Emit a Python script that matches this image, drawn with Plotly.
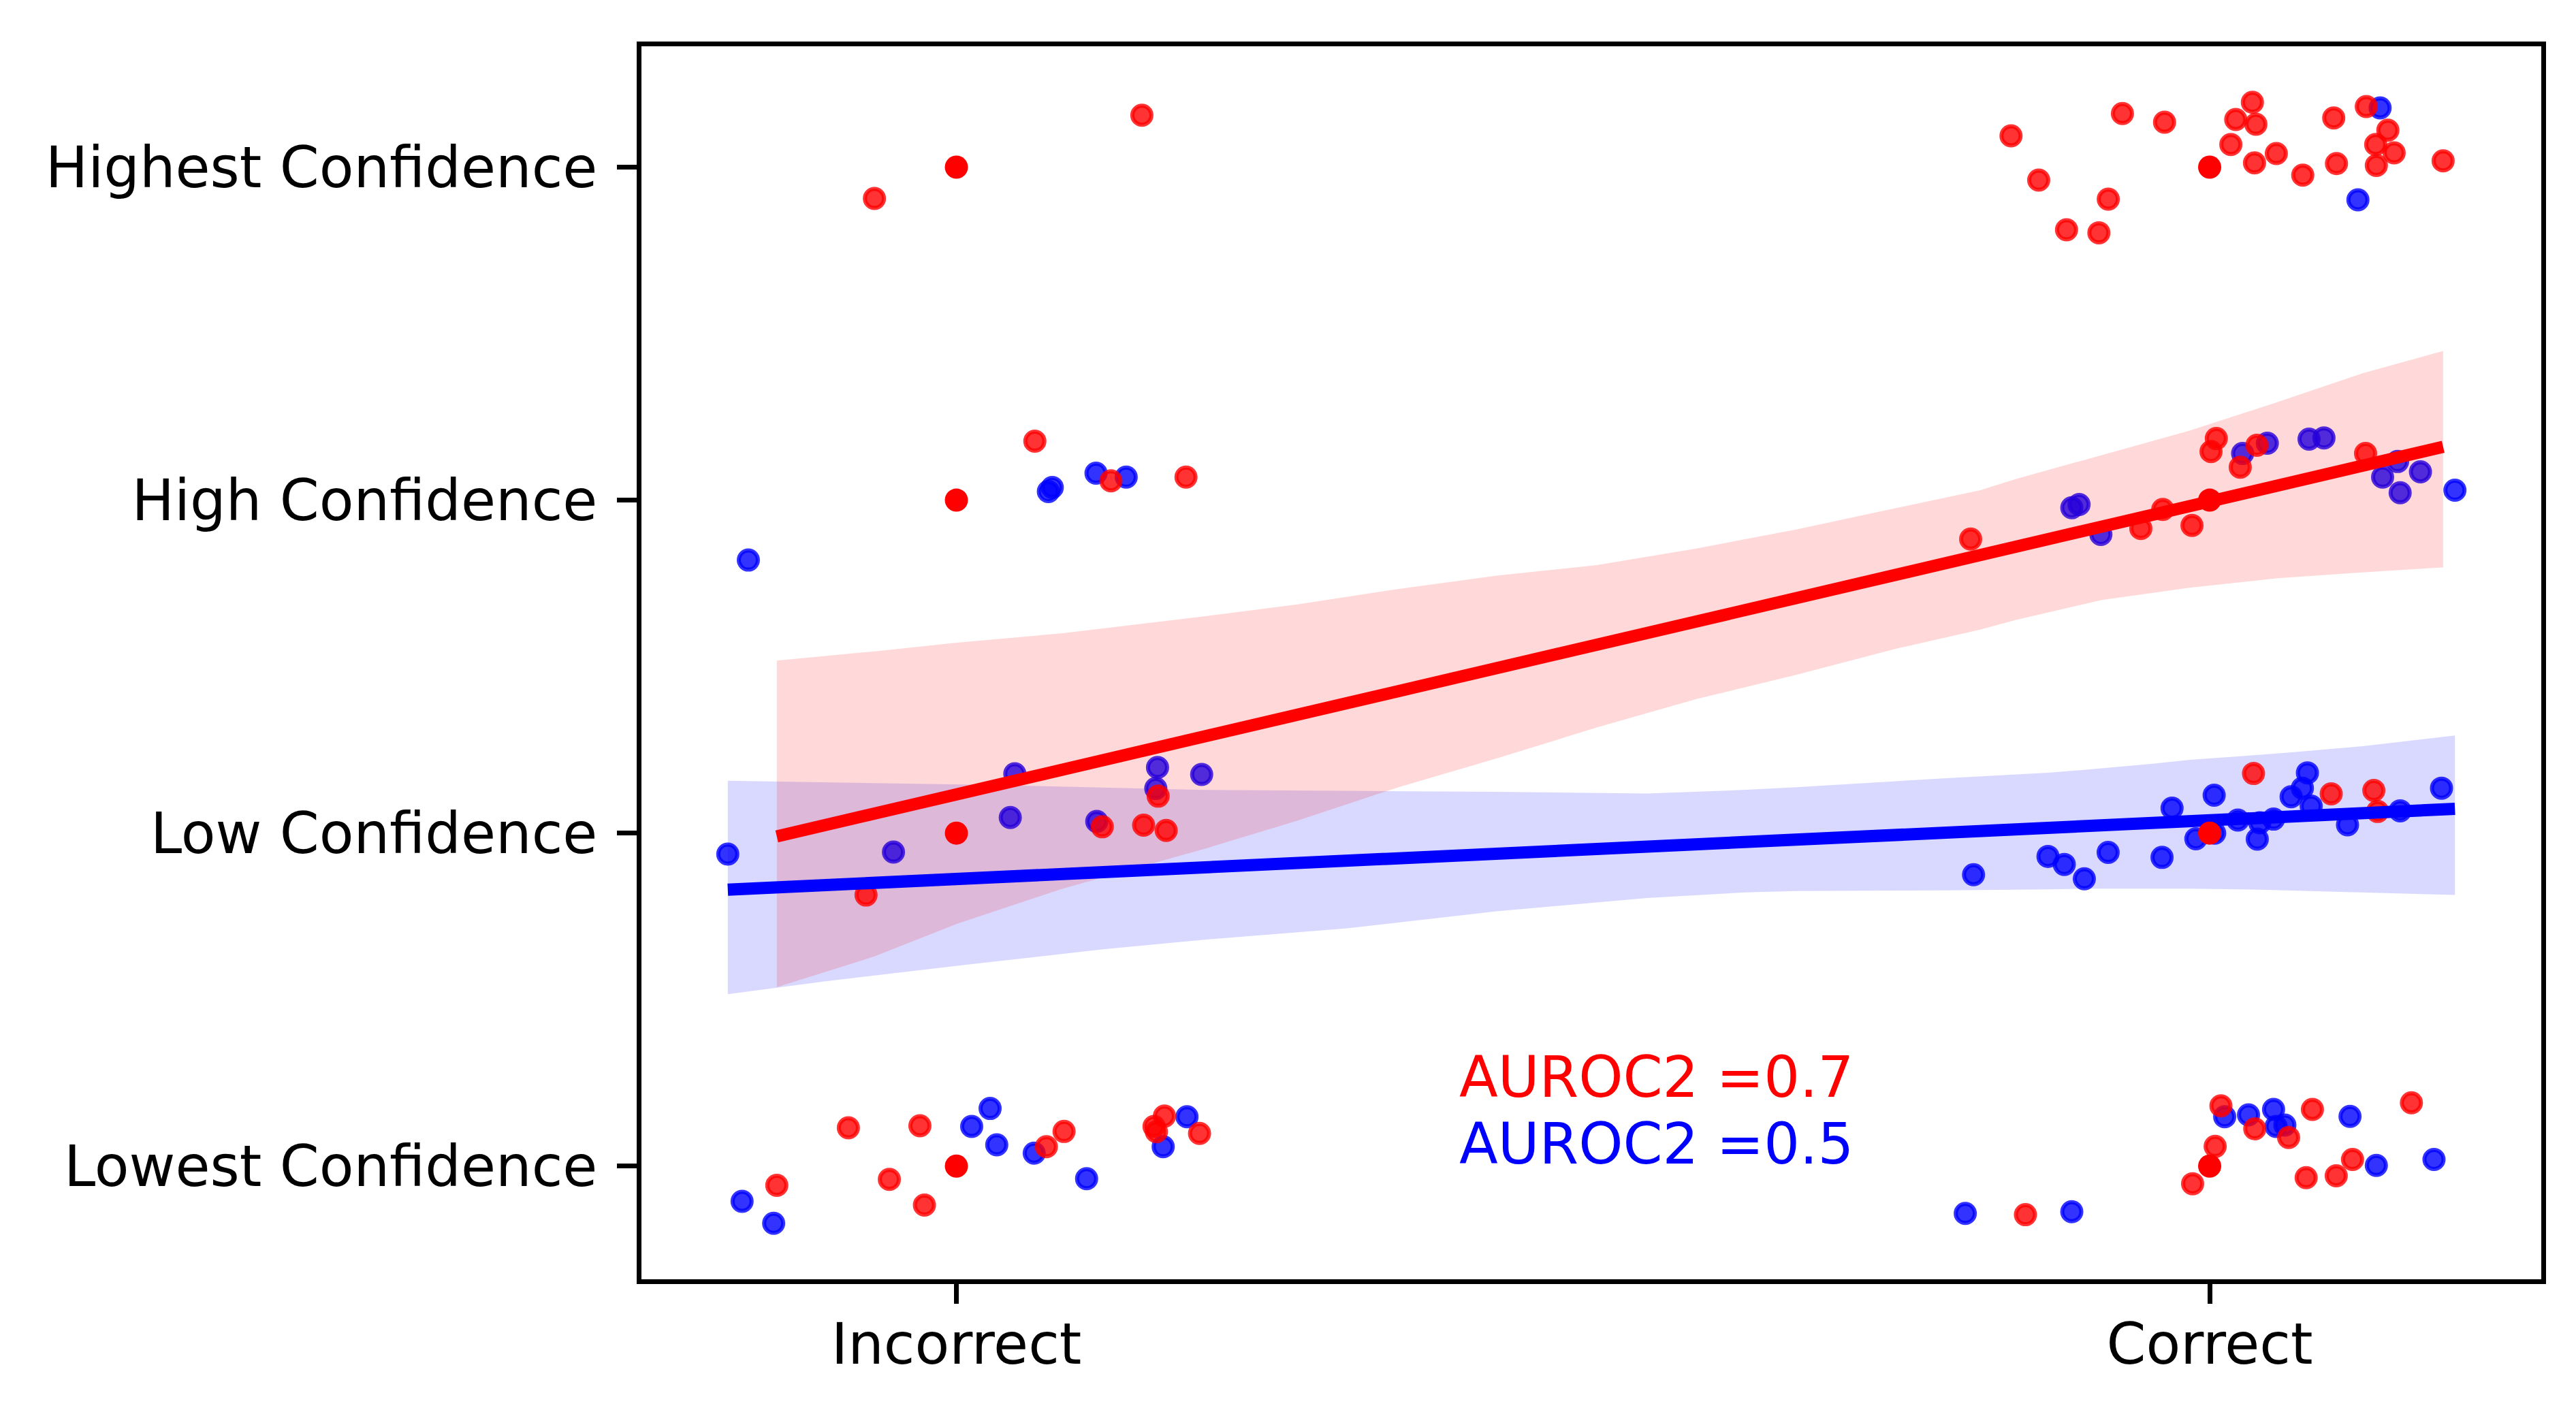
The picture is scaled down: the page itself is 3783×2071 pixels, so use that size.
import plotly.graph_objs as go

# confidence levels and outcome labels
conf_labels = ["Lowest Confidence", "Low Confidence", "High Confidence", "Highest Confidence"]
outcome_labels = ["Incorrect", "Correct"]

# jittered ratings, red condition
red_x = [0.148, -0.0654,
         0.0626, 0.1233, 0.1832,
         -0.0721, 0.1164, 0.1494, 0.1674, 0.161,
         -0.1433, -0.0862, -0.0535, -0.0291, -0.0255, 0.0718, 0.0859, 0.1577, 0.166, 0.1596, 0.194,
         0.8415, 0.8636, 0.8858, 0.9116, 0.9191, 0.9304, 0.964, 1.0169, 1.0208, 1.0341, 1.0369,
         1.0358, 1.0532, 1.0743, 1.099, 1.1012, 1.125, 1.1422, 1.1325, 1.1472, 1.133, 1.1863,
         0.8093, 0.9451, 0.9626, 0.9859, 1.0053, 1.0011, 1.0244, 1.0377, 1.1244,
         1.035, 1.097, 1.131, 1.134,
         0.853, 0.9864, 1.0044, 1.009, 1.036, 1.063, 1.082, 1.077, 1.101, 1.114, 1.161]
red_y = [3.156, 2.906,
         2.177, 2.058, 2.069,
         0.814, 1.019, 1.024, 1.008, 1.111,
         -0.058, 0.115, -0.040, 0.121, -0.117, 0.058, 0.104, 0.119, 0.150, 0.103, 0.098,
         3.094, 2.961, 2.812, 2.803, 2.904, 3.161, 3.135, 3.068, 3.143, 3.195, 3.129,
         3.013, 3.041, 2.976, 3.148, 3.011, 3.182, 3.111, 3.068, 3.043, 3.005, 3.019,
         1.883, 1.915, 1.972, 1.924, 2.185, 2.146, 2.099, 2.165, 2.140,
         1.179, 1.118, 1.128, 1.065,
         -0.146, -0.053, 0.059, 0.181, 0.112, 0.086, 0.170, -0.035, -0.029, 0.020, 0.190]

# jittered ratings, blue condition
blue_x = [0.1114, 0.1355, 0.0765, 0.0734, -0.166,
          -0.1824, -0.0502, 0.0466, 0.043, 0.112, 0.1605, 0.1957, 0.1591,
          -0.171, -0.1458, 0.0269, 0.0122, 0.0322, 0.0621, 0.1039, 0.184, 0.165,
          1.136, 1.1183,
          0.890, 0.8958, 0.9132, 1.0263, 1.046, 1.0793, 1.0912, 1.150, 1.138, 1.1682, 1.152, 1.1957,
          0.8116, 0.871, 0.884, 0.900, 0.919, 0.962, 0.970, 0.989, 1.0036, 1.004, 1.0225,
          1.040, 1.051, 1.038, 1.078, 1.074, 1.065, 1.081, 1.110, 1.152, 1.185,
          0.805, 0.890, 1.012, 1.031, 1.051, 1.053, 1.060, 1.112, 1.133, 1.179]
blue_y = [2.081, 2.069, 2.038, 2.026, 1.820,
          0.937, 0.943, 1.178, 1.047, 1.035, 1.197, 1.176, 1.134,
          -0.106, -0.172, 0.173, 0.119, 0.064, 0.039, -0.038, 0.148, 0.058,
          3.178, 2.902,
          1.977, 1.987, 1.897, 2.140, 2.171, 2.183, 2.187, 2.116, 2.069, 2.085, 2.022, 2.030,
          0.875, 0.930, 0.906, 0.863, 0.942, 0.927, 1.075, 0.983, 1.114, 1.000, 1.039,
          1.031, 1.042, 0.982, 1.181, 1.135, 1.109, 1.081, 1.025, 1.067, 1.135,
          -0.142, -0.137, 0.148, 0.154, 0.170, 0.119, 0.123, 0.149, 0.002, 0.020]

# un-jittered ratings
raw_x = [0, 0, 0, 0, 1, 1, 1, 1]
raw_y = [0, 1, 2, 3, 0, 1, 2, 3]

# regression fits (end points) and confidence bands
red_fit_x = [-0.1433, 1.1863]
red_fit_y = [0.99, 2.16]
blue_fit_x = [-0.1824, 1.1957]
blue_fit_y = [0.83, 1.073]

red_band_x = [-0.1433, -0.065, 0.0, 0.084, 0.2, 0.272, 0.352, 0.431, 0.511, 0.591,
              0.670, 0.750, 0.817, 0.845, 0.914, 0.984, 1.053, 1.122, 1.1863]
red_band_hi = [1.518, 1.546, 1.572, 1.600, 1.652, 1.687, 1.733, 1.773, 1.805, 1.855,
               1.912, 1.977, 2.030, 2.063, 2.136, 2.209, 2.293, 2.381, 2.448]
red_band_lo = [0.537, 0.630, 0.727, 0.832, 0.955, 1.037, 1.137, 1.224, 1.317, 1.403,
               1.475, 1.554, 1.611, 1.640, 1.700, 1.737, 1.765, 1.783, 1.798]

blue_band_x = [-0.1824, -0.104, 0.0067, 0.1175, 0.192, 0.312, 0.431, 0.551, 0.630, 0.670,
               0.790, 0.873, 0.900, 0.956, 0.984, 1.039, 1.067, 1.122, 1.1957]
blue_band_hi = [1.157, 1.152, 1.146, 1.137, 1.130, 1.127, 1.124, 1.119, 1.130, 1.138,
                1.165, 1.182, 1.190, 1.209, 1.220, 1.235, 1.243, 1.261, 1.293]
blue_band_lo = [0.516, 0.555, 0.604, 0.651, 0.678, 0.714, 0.765, 0.805, 0.822, 0.826,
                0.828, 0.831, 0.833, 0.833, 0.833, 0.830, 0.828, 0.822, 0.814]

auroc_red = 0.7
auroc_blue = 0.5

FONT = "DejaVu Sans"
FS = 83


def dots(x, y, rgb):
    c = "rgba(%d,%d,%d,0.8)" % rgb
    return go.Scatter(x=x, y=y, mode="markers", showlegend=False, hoverinfo="skip",
                      marker=dict(size=28, color=c, line=dict(color=c, width=6)))


def band(x, hi, lo, rgb):
    return go.Scatter(x=x + x[::-1], y=hi + lo[::-1], mode="lines", fill="toself",
                      fillcolor="rgba(%d,%d,%d,0.15)" % rgb, line=dict(width=0),
                      showlegend=False, hoverinfo="skip")


def fit(x, y, color):
    return go.Scatter(x=x, y=y, mode="lines", line=dict(color=color, width=18),
                      showlegend=False, hoverinfo="skip")


fig = go.Figure()
fig.add_trace(dots(blue_x, blue_y, (0, 0, 255)))
fig.add_trace(band(blue_band_x, blue_band_hi, blue_band_lo, (0, 0, 255)))
fig.add_trace(dots(red_x, red_y, (255, 0, 0)))
fig.add_trace(band(red_band_x, red_band_hi, red_band_lo, (255, 0, 0)))
fig.add_trace(fit(blue_fit_x, blue_fit_y, "blue"))
fig.add_trace(fit(red_fit_x, red_fit_y, "red"))
fig.add_trace(go.Scatter(x=raw_x, y=raw_y, mode="markers", showlegend=False, hoverinfo="skip",
                         marker=dict(size=34, color="red", line=dict(width=0))))

fig.add_annotation(x=0.4, y=0.2, text="AUROC2 =" + str(auroc_red), showarrow=False,
                   xanchor="left", yanchor="bottom", yshift=-18,
                   font=dict(family=FONT, size=FS, color="red"))
fig.add_annotation(x=0.4, y=0.0, text="AUROC2 =" + str(auroc_blue), showarrow=False,
                   xanchor="left", yanchor="bottom", yshift=-18,
                   font=dict(family=FONT, size=FS, color="blue"))

axis_style = dict(showline=True, linecolor="black", linewidth=7, mirror=True,
                  ticks="outside", ticklen=29, tickwidth=7, tickcolor="black",
                  showgrid=False, zeroline=False,
                  tickfont=dict(family=FONT, size=FS, color="black"))

fig.update_xaxes(range=[-0.2513, 1.2646], tickvals=[0, 1], ticktext=outcome_labels,
                 ticklabelstandoff=-12, **axis_style)
fig.update_yaxes(range=[-0.34, 3.363], tickvals=[0, 1, 2, 3], ticktext=conf_labels,
                 ticklabelstandoff=12, **axis_style)

fig.update_layout(width=3783, height=2071,
                  margin=dict(l=934, r=59, t=60, b=200, autoexpand=False),
                  plot_bgcolor="white", paper_bgcolor="white",
                  font=dict(family=FONT, size=FS))

fig.write_html("out.html")
